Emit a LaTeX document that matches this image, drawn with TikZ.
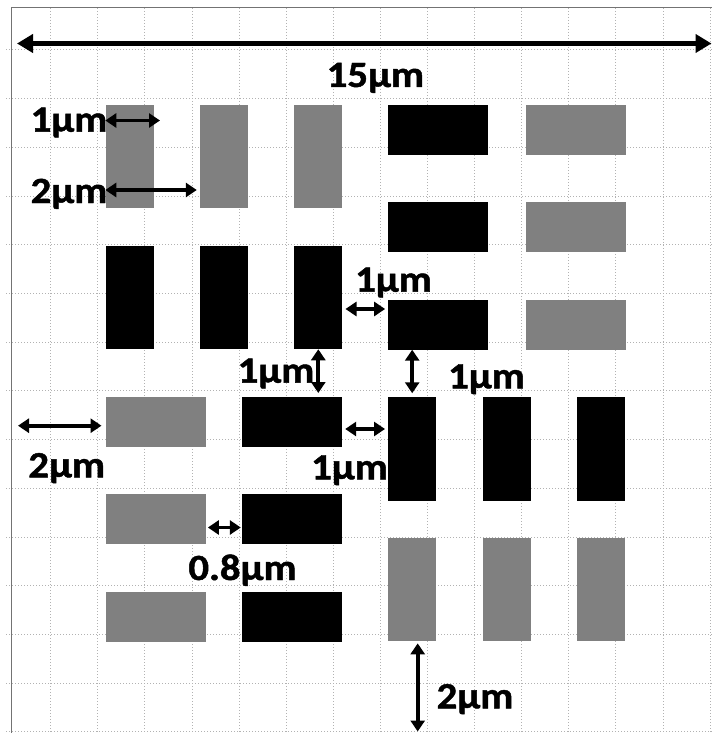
\documentclass[tikz,border=0pt]{standalone}
\usepackage{fontspec}
\setmainfont{Carlito}[BoldFeatures={FakeBold=1.2}]
\usetikzlibrary{arrows.meta}
\begin{document}
\begin{tikzpicture}[
  x=1pt, y=-1pt,
  vpad/.style={rectangle,inner sep=0pt,minimum width=48pt,minimum height=103.5pt},
  hpad/.style={rectangle,inner sep=0pt,minimum width=100pt,minimum height=50pt},
  dark/.style={fill=black},
  grey/.style={fill=gray},
  dim/.style={{Triangle[length=11pt,width=14pt]}-{Triangle[length=11pt,width=14pt]},line width=3.8pt},
  dimlong/.style={{Triangle[length=16pt,width=18pt]}-{Triangle[length=16pt,width=18pt]},line width=4.8pt},
  lbl/.style={anchor=base,inner sep=0pt,xscale=1.1,transform shape,font=\bfseries\fontsize{37}{44}\selectfont}
]
\useasboundingbox (0,0) rectangle (712,733);
% grid and frame
\foreach \i in {0,...,14}
  \draw[gray!60,dotted,line width=1pt] (50.7+47.1*\i,8) -- (50.7+47.1*\i,733);
\foreach \j in {0,...,14}
  \draw[gray!60,dotted,line width=1pt] (6,50+48.7*\j) -- (712,50+48.7*\j);
\draw[black!55,line width=1.5pt] (11.7,733) -- (11.7,7.5) -- (712,7.5);
% upper left: vertical pads
\node[vpad,grey] (gv1) at (129.5,156.3) {};
\node[vpad,grey] (gv2) at (224,156.3) {};
\node[vpad,grey] (gv3) at (318.3,156.3) {};
\node[vpad,dark] (bv1) at (129.5,297.3) {};
\node[vpad,dark] (bv2) at (224,297.3) {};
\node[vpad,dark] (bv3) at (318.3,297.3) {};
% upper right: horizontal pads
\node[hpad,dark] (bh1) at (438.3,129.7) {};
\node[hpad,dark] (bh2) at (438.3,227) {};
\node[hpad,dark] (bh3) at (438.3,324.5) {};
\node[hpad,grey] (gh1) at (575.7,129.7) {};
\node[hpad,grey] (gh2) at (575.7,227) {};
\node[hpad,grey] (gh3) at (575.7,324.5) {};
% lower left: horizontal pads
\node[hpad,grey] (gl1) at (155.7,422.2) {};
\node[hpad,grey] (gl2) at (155.7,519.3) {};
\node[hpad,grey] (gl3) at (155.7,616.7) {};
\node[hpad,dark] (bl1) at (292,422.2) {};
\node[hpad,dark] (bl2) at (292,519.3) {};
\node[hpad,dark] (bl3) at (292,616.7) {};
% lower right: vertical pads
\node[vpad,dark] (bb1) at (412.2,449.2) {};
\node[vpad,dark] (bb2) at (507.2,449.2) {};
\node[vpad,dark] (bb3) at (601.2,449.2) {};
\node[vpad,grey] (gb1) at (412.2,589.4) {};
\node[vpad,grey] (gb2) at (507.2,589.4) {};
\node[vpad,grey] (gb3) at (601.2,589.4) {};
% dimension arrows
\coordinate (wl) at (17,43.5);
\coordinate (wr) at (711.5,43.5);
\coordinate (w1) at (160,120.5);
\coordinate (lf) at (18,425.7);
\coordinate (bot) at (417.7,731.5);
\draw[dimlong] (wl) -- (wr);
\draw[dim] (gv1.west |- w1) -- (w1);
\draw[dim,shorten >=3pt] (gv1.west |- 0,190) -- (gv2.west |- 0,190);
\draw[dim,shorten <=3pt,shorten >=3pt] (bv3.east |- 0,309) -- (bh3.west |- 0,309);
\draw[dim,shorten >=4pt] (bv3.south) -- (bv3.south |- bl1.north);
\draw[dim,shorten >=4pt] (bb1.north |- bh3.south) -- (bb1.north);
\draw[dim,shorten >=4pt] (lf) -- (gl1.west |- lf);
\draw[dim,shorten <=3pt,shorten >=3pt] (bl1.east |- 0,429) -- (bb1.west |- 0,429);
\draw[dim,shorten <=2pt,shorten >=1pt] (gl2.east |- 0,527.5) -- (bl2.west |- 0,527.5);
\draw[dim,shorten <=2pt] (gb1.south -| bot) -- (bot);
% labels
\node[lbl] (l15) at (375.4,87) {15μm};
\node[lbl] (l1a) at (69,131.7) {1μm};
\node[lbl] (l2a) at (69,203) {2μm};
\node[lbl] (l1b) at (393.5,291.7) {1μm};
\node[lbl] (l1c) at (276,382.7) {1μm};
\node[lbl] (l1d) at (486.5,388.3) {1μm};
\node[lbl] (l2b) at (66.7,477.3) {2μm};
\node[lbl] (l1e) at (349.5,479.3) {1μm};
\node[lbl] (l08) at (242.5,580) {0.8μm};
\node[lbl] (l2c) at (475,708.3) {2μm};
\end{tikzpicture}
\end{document}
